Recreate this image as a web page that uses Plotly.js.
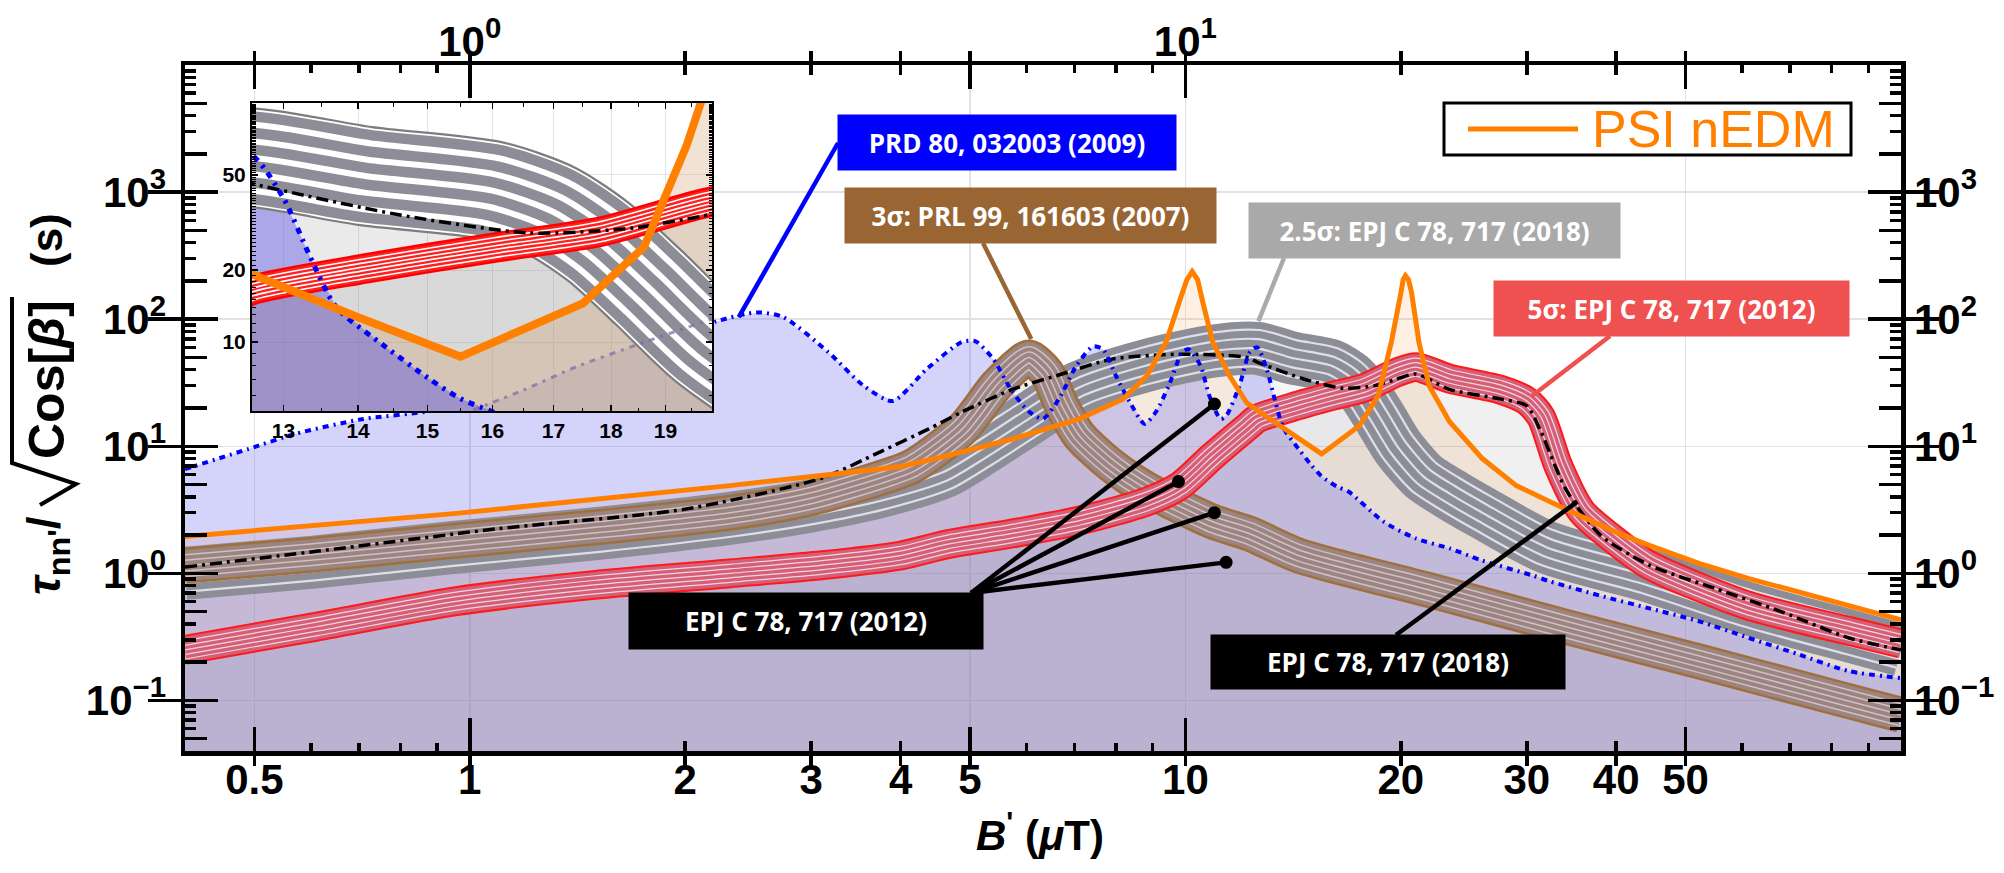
<!DOCTYPE html>
<html><head><meta charset="utf-8">
<script src="https://cdn.plot.ly/plotly-3.0.1.min.js"></script>
<style>html,body{margin:0;padding:0;background:#fff}#chart{width:2004px;height:873px}</style>
</head><body><div id="chart"></div>
<script>
// ---------------- data ----------------
// PSI nEDM (orange)
const orangeX = [0.40,0.95,2.31,3.11,3.99,4.64,5.73,7.11,8.18,8.83,9.40,9.83,10.05,10.22,10.4,10.58,10.92,11.52,12.18,13.0,14.0,15.5,16.5,17.5,18.6,19.4,20.0,20.15,20.3,20.5,20.7,21.2,21.9,23.4,26.0,29.0,34.0,40.0,44.5,52.2,61.3,84.6,100];
const orangeY = [1.95,2.95,4.9,5.9,6.9,8.4,11.4,16.4,23.5,35.7,66,143,205,237,205,135,66,36,22,17,12.7,8.7,11.3,14.5,25,66,160,205,220,205,163,66,30,15.6,8,4.9,3.2,2.1,1.66,1.2,0.91,0.56,0.43];
// PRD 80, 032003 (2009) (blue dash-dot)
const blueX = [0.40,0.49,0.57,0.71,0.885,1.3,1.7,2.21,2.52,2.74,3.17,3.55,3.9,4.35,4.87,5.09,5.39,5.73,6.05,6.32,6.66,7.04,7.43,7.67,8.0,8.36,8.77,9.1,9.48,9.9,10.1,10.5,10.8,11.2,11.4,11.9,12.3,12.6,13.0,13.35,13.7,14.4,15.0,15.5,16.3,16.9,18.9,21.0,23.4,26.0,30.6,32.2,37.9,44.5,52.2,61.3,72,84.6,100];
const blueY = [6.6,9.5,12.5,16.4,19,32,55,96,113,104,55,30,22.7,40.5,66,67,48.5,26.8,18.7,16.4,23.6,43,61,58,35.7,22.3,15,18.7,30,55,58,43,25,16.4,17.3,30,55,60,40,22.7,14,9.5,7.1,5.8,4.8,4.4,2.56,1.88,1.57,1.26,0.96,0.87,0.67,0.53,0.42,0.31,0.23,0.17,0.15];
// combined limit (black dash-dot)
const blackX = [0.40,0.61,1.10,2.0,3.1,3.74,4.38,4.88,5.73,6.72,7.9,9.8,12.2,12.6,14.6,16.6,18.4,19.5,21.0,23.4,27.5,30.0,31.4,34.0,38.0,44.5,55,68,84.6,100];
const blackY = [1.12,1.49,2.25,3.2,5.6,9.0,13.7,18.7,28,37,48.5,53,50,46,34,28.6,30,33,37,28,23.6,20.8,13,4.6,2.0,1.16,0.76,0.5,0.31,0.25];
// 2.5σ: EPJ C 78, 717 (2018) band centre (grey)
const grayX = [0.40,0.6,0.95,1.5,2.3,3.0,3.74,4.6,5.2,6.0,7.1,8.8,10.9,12.6,14.1,16.0,17.0,17.8,18.7,19.8,21.5,23.4,26,32,44.5,61,85,100];
const grayY = [1.0,1.22,1.6,2.05,2.7,3.4,4.4,6.3,9.5,16,29,43,56,59,49.5,43,35,26,16.8,9.9,5.8,4.24,3.0,1.6,0.95,0.53,0.32,0.25];
// 5σ: EPJ C 78, 717 (2012) band centre (red)
const redX = [0.40,0.61,0.95,1.49,2.31,3.11,4.0,4.64,5.73,7.11,8.83,9.83,10.9,12.2,12.6,14.1,16.1,17.8,19.8,21.0,23.4,27.5,30.0,31.4,33.2,35.8,40,44.5,61,85,100];
const redY = [0.25,0.38,0.60,0.81,1.0,1.16,1.38,1.69,2.06,2.6,3.67,4.9,8.3,14.2,16.5,20.3,25,28.9,38.3,42,34,28,22.7,17,7,3.06,1.78,1.16,0.56,0.35,0.28];
// 3σ: PRL 99, 161603 (2007) band centre (brown)
const brownX = [0.40,0.6,0.95,1.5,2.31,3.0,3.74,4.16,4.88,5.44,5.86,6.05,6.4,6.72,7.11,7.9,8.83,10.9,12.3,14.4,22.3,34,52.7,81.6,100];
const brownY = [1.15,1.4,1.8,2.3,3.0,3.9,5.6,7.0,13.7,30,45,50,38,20.8,12.1,7.0,4.6,2.56,2.05,1.38,0.72,0.38,0.2,0.104,0.077];
// faint curve seen only in the inset
const insetFaintX = [15.7,16.5,17.4,18.5,19.9];
const insetFaintY = [5.2,6.3,7.9,9.8,12.5];

// tick labels
const xTickVals = [0.5,1,2,3,4,5,10,20,30,40,50];
const xTickText = ['0.5','1','2','3','4','5','10','20','30','40','50'];
const topTickVals = [1,10];
const topTickText = ['10<sup>0</sup>','10<sup>1</sup>'];
const yTickVals = [0.1,1,10,100,1000];
const yTickText = ['10<sup>\u22121</sup>','10<sup>0</sup>','10<sup>1</sup>','10<sup>2</sup>','10<sup>3</sup>'];
const insetXTicks = [13,14,15,16,17,18,19];
const insetYTicks = [10,20,50];

// callout labels and pointer targets (data coordinates)
const calloutTexts = ['PRD 80, 032003 (2009)','3σ: PRL 99, 161603 (2007)','2.5σ: EPJ C 78, 717 (2018)','5σ: EPJ C 78, 717 (2012)','EPJ C 78, 717 (2012)','EPJ C 78, 717 (2018)'];
const pointerTargetsX = [2.376,6.09,12.65,30.5,35.3,10.98,9.78,10.98,11.4];
const pointerTargetsY = [103.7,69.7,96.5,24.9,3.67,21.5,5.27,3.0,1.22];

// ---------------- geometry / style ----------------
const PL = 185, PR = 1901, PT = 65, PB = 751;
const px = X => (X - PL) / (PR - PL);
const py = Y => (PB - Y) / (PB - PT);
const XR = [Math.log10(0.4), 2];
const YR = [Math.log10(0.04), 4];
const xFromPx = X => Math.pow(10, XR[0] + (X - PL) / (PR - PL) * (XR[1] - XR[0]));
const yFromPx = Y => Math.pow(10, YR[1] - (Y - PT) / (PB - PT) * (YR[1] - YR[0]));
const FLOOR = 1e-3;
const FAX = 'Liberation Sans, Arial, sans-serif';
const FLB = 'Open Sans, sans-serif';

const traces = [];
function fillTrace(xs, ys, color, xa, ya) {
  return {type:'scatter', mode:'lines', x: xs.concat([xs[xs.length-1], xs[0]]), y: ys.concat([FLOOR, FLOOR]),
    fill:'toself', fillcolor:color, line:{width:0}, xaxis:xa, yaxis:ya, hoverinfo:'skip', showlegend:false};
}
function bandTraces(xs, ys, rings, xa, ya, scale) {
  const half = rings.reduce((s, r) => s + r[1], 0) * scale;
  let w = 2 * half;
  const out = [];
  for (const [color, t] of rings) {
    out.push({type:'scatter', mode:'lines', x:xs, y:ys, xaxis:xa, yaxis:ya, hoverinfo:'skip', showlegend:false,
      line:{color:color, width:w, shape:'spline', smoothing:0.7}});
    w -= 2 * t * scale;
  }
  return out;
}
function lineTrace(xs, ys, color, width, dash, shape, xa, ya) {
  return {type:'scatter', mode:'lines', x:xs, y:ys, xaxis:xa, yaxis:ya, hoverinfo:'skip', showlegend:false,
    line:{color:color, width:width, dash:dash, shape:shape, smoothing:0.7}};
}
const G = '#8d8d97', GL = '#dedee8';
const grayRings = [[G,7],[GL,2.2],[G,7],[GL,2.2],[G,7],[GL,1.1]];
const RR = '#ff1a1a', RP = '#d45f78', RW = '#f6d6dd';
const redRings = [[RR,2],[RP,3.3],[RW,1.2],[RP,3.3],[RW,1.2],[RP,3.3],[RW,0.6]];
const BB = '#a0703c', BI = '#9c8480', BL = '#cfc0c6';
const brownRings = [[BB,2.5],[BI,3.9],[BL,1.5],[BI,3.9],[BL,1.5],[BI,3.9],[BL,0.75]];
const redRingsInset = [['#ff0000',2.4],['#ff2020',2.2],['#ffffff',1.6],['#ff2020',2.4],['#ffffff',1.6],['#ff2020',2.4],['#ffffff',1.6],['#ff2020',1.0]];
const grayRingsInset = [['#7d7d7d',1.2],['#ffffff',0.9],[G,5.6],['#ffffff',3.2],[G,5.6],['#ffffff',3.2],[G,5.6],['#ffffff',1.6]];

// ----- main plot -----
traces.push(fillTrace(orangeX, orangeY, 'rgba(245,150,60,0.14)', 'x', 'y'));
traces.push(fillTrace(grayX, grayY, 'rgba(140,140,150,0.08)', 'x', 'y'));
traces.push(fillTrace(redX, redY, 'rgba(140,140,150,0.13)', 'x', 'y'));
traces.push(fillTrace(brownX, brownY, 'rgba(110,60,40,0.08)', 'x', 'y'));
traces.push(fillTrace(blueX, blueY, 'rgba(100,100,240,0.28)', 'x', 'y'));
traces.push(...bandTraces(grayX, grayY, grayRings, 'x', 'y', 1));
traces.push(...bandTraces(brownX, brownY, brownRings, 'x', 'y', 1));
traces.push(...bandTraces(redX, redY, redRings, 'x', 'y', 1));
traces.push(lineTrace(blackX, blackY, '#000', 3.5, '12px,5px,3px,5px', 'spline', 'x', 'y'));
traces.push(lineTrace(blueX, blueY, '#0000ff', 4, '6px,5px,2px,5px', 'spline', 'x', 'y'));
traces.push(lineTrace(orangeX, orangeY, '#ff8000', 5, 'solid', 'linear', 'x', 'y'));

// pointer lines from the callout boxes (tail positions in px) to the targets
const pointerTails = [[838,143],[983,243],[1284,258],[1610,336],[1396,635],[971,593],[971,593],[971,593],[971,593]];
const pointerColors = ['#0000ff','#996633','#aaaaaa','#ef5050','#000','#000','#000','#000','#000'];
pointerTails.forEach((t, i) => {
  traces.push({type:'scatter', mode:'lines', x:[xFromPx(t[0]), pointerTargetsX[i]], y:[yFromPx(t[1]), pointerTargetsY[i]],
    xaxis:'x', yaxis:'y', hoverinfo:'skip', showlegend:false, line:{color:pointerColors[i], width:4.5}});
});
traces.push({type:'scatter', mode:'markers', x:pointerTargetsX.slice(5), y:pointerTargetsY.slice(5), xaxis:'x', yaxis:'y',
  hoverinfo:'skip', showlegend:false, marker:{color:'#000', size:13}});

// ----- inset (same data, magnified) -----
const IS = 1.875;
traces.push(fillTrace(grayX, grayY, 'rgba(150,150,150,0.2)', 'x2', 'y2'));
traces.push(fillTrace(redX, redY, 'rgba(150,150,150,0.2)', 'x2', 'y2'));
traces.push(fillTrace(orangeX, orangeY, 'rgba(200,140,80,0.25)', 'x2', 'y2'));
traces.push(fillTrace(insetFaintX, insetFaintY, 'rgba(120,80,150,0.12)', 'x2', 'y2'));
traces.push(fillTrace(blueX, blueY, 'rgba(80,70,230,0.4)', 'x2', 'y2'));
traces.push(...bandTraces(grayX, grayY, grayRingsInset, 'x2', 'y2', IS));
traces.push(...bandTraces(redX, redY, redRingsInset, 'x2', 'y2', 1));
traces.push(lineTrace(blackX, blackY, '#000', 3.5, '12px,5px,3px,5px', 'spline', 'x2', 'y2'));
traces.push(lineTrace(blueX, blueY, '#0000ff', 5, '6px,6px,3px,6px', 'spline', 'x2', 'y2'));
traces.push(lineTrace(insetFaintX, insetFaintY, 'rgba(130,100,170,0.7)', 3, '6px,6px,3px,6px', 'spline', 'x2', 'y2'));
traces.push(lineTrace(orangeX, orangeY, '#ff8000', 8, 'solid', 'linear', 'x2', 'y2'));

// empty traces so that the overlaying tick/label axes get drawn
[['x3','y'],['x4','y'],['x5','y'],['x6','y'],['x','y3'],['x','y4'],['x','y5']].forEach(([xa, ya]) => {
  traces.push({type:'scatter', mode:'lines', x:[], y:[], xaxis:xa, yaxis:ya, hoverinfo:'skip', showlegend:false});
});

// ---------------- axes ----------------
const tickFont = {family:FAX, size:42, color:'#000', weight:700};
const common = {type:'log', ticks:'inside', tickcolor:'#000', tickwidth:3.5, mirror:'allticks', zeroline:false, tickmode:'array', fixedrange:true};
const minorX = [0.6,0.7,0.8,0.9,6,7,8,9,60,70,80,90];
const midY = [0.05,0.2,0.5,2,5,20,50,200,500,2000,5000];
const minorY = [0.06,0.07,0.08,0.09,0.3,0.4,0.6,0.7,0.8,0.9,3,4,6,7,8,9,30,40,60,70,80,90,300,400,600,700,800,900,3000,4000,6000,7000,8000,9000];
const insetMinorY = [6,7,8,9,30,40,60,70,80,90];

const layout = {
  width:2004, height:873, paper_bgcolor:'#fff', plot_bgcolor:'#fff',
  margin:{l:PL, r:2004-PR, t:PT, b:873-PB, pad:0},
  showlegend:false, hovermode:false,
  xaxis: Object.assign({}, common, {range:XR, domain:[0,1], anchor:'y', tickvals:xTickVals, ticktext:xTickText, ticklen:10,
    showline:true, linewidth:4.5, linecolor:'#000', showgrid:false, tickfont:tickFont, ticklabelstandoff:-12}),
  xaxis4: Object.assign({}, common, {range:XR, overlaying:'x', anchor:'y', tickvals:[1,10], ticklen:33, showticklabels:false,
    showline:false, showgrid:true, gridcolor:'#e2e2e2', gridwidth:1.5}),
  xaxis5: Object.assign({}, common, {range:XR, overlaying:'x', anchor:'y', tickvals:[0.5,5,50], ticklen:24, showticklabels:false,
    showline:false, showgrid:true, gridcolor:'#e2e2e2', gridwidth:1.5}),
  xaxis6: Object.assign({}, common, {range:XR, overlaying:'x', anchor:'y', tickvals:minorX, ticklen:8, showticklabels:false,
    showline:false, showgrid:false}),
  xaxis3: Object.assign({}, common, {range:XR, overlaying:'x', anchor:'y', side:'top', tickvals:topTickVals, ticktext:topTickText,
    ticks:'', mirror:false, showline:false, showgrid:false, tickfont:tickFont, ticklabelstandoff:0}),
  yaxis: Object.assign({}, common, {range:YR, domain:[0,1], anchor:'x', tickvals:yTickVals, ticktext:yTickText, ticklen:33,
    showline:true, linewidth:4.5, linecolor:'#000', showgrid:true, gridcolor:'#e2e2e2', gridwidth:1.5, tickfont:tickFont, ticklabelstandoff:6}),
  yaxis4: Object.assign({}, common, {range:YR, overlaying:'y', anchor:'x', tickvals:midY, ticklen:22, showticklabels:false, showline:false, showgrid:false}),
  yaxis5: Object.assign({}, common, {range:YR, overlaying:'y', anchor:'x', tickvals:minorY, ticklen:11, showticklabels:false, showline:false, showgrid:false}),
  yaxis3: Object.assign({}, common, {range:YR, overlaying:'y', anchor:'x', side:'right', tickvals:yTickVals, ticktext:yTickText,
    ticks:'', mirror:false, showline:false, showgrid:false, tickfont:tickFont, ticklabelstandoff:12}),
  xaxis2: Object.assign({}, common, {range:[Math.log10(12.6), Math.log10(19.9)], domain:[px(252), px(712)], anchor:'y2',
    tickvals:insetXTicks, ticktext:insetXTicks.map(String), ticklen:6, tickwidth:1.5, showline:true, linewidth:2, linecolor:'#000',
    showgrid:true, gridcolor:'#e4e4e4', gridwidth:1, tickfont:{family:FAX, size:21, color:'#000', weight:700},
    minor:{ticks:'inside', ticklen:3.5, tickwidth:1, tickcolor:'#000', showgrid:false}}),
  yaxis2: Object.assign({}, common, {range:[Math.log10(5.15), 2], domain:[py(411), py(103)], anchor:'x2',
    tickvals:insetYTicks, ticktext:insetYTicks.map(String), ticklen:6, tickwidth:1.5, showline:true, linewidth:2, linecolor:'#000',
    showgrid:true, gridcolor:'#e4e4e4', gridwidth:1, tickfont:{family:FAX, size:21, color:'#000', weight:700},
    minor:{ticks:'inside', ticklen:3.5, tickwidth:1, tickcolor:'#000', showgrid:false}}),
  shapes: [
    {type:'rect', xref:'paper', yref:'paper', x0:px(1444), x1:px(1851), y0:py(155), y1:py(103), line:{color:'#000', width:3}, fillcolor:'#fff', layer:'above'},
    {type:'line', xref:'paper', yref:'paper', x0:px(1468), x1:px(1578), y0:py(129), y1:py(129), line:{color:'#ff8000', width:5}, layer:'above'},
    // radical sign of the y-axis title
    {type:'path', xref:'paper', yref:'paper', layer:'above', line:{color:'#000', width:4},
     path:'M' + px(40) + ',' + py(505) + ' L' + px(76) + ',' + py(484) + ' L' + px(12) + ',' + py(463) + ' L' + px(12) + ',' + py(297)}
  ],
  annotations: []
};

// legend text
layout.annotations.push({xref:'paper', yref:'paper', x:px(1590), y:py(129), xanchor:'left', yanchor:'middle', showarrow:false,
  text:'PSI nEDM', font:{family:FAX, size:52, color:'#ff8000'}});
// axis titles
layout.annotations.push({xref:'paper', yref:'paper', x:px(1040), y:py(832), xanchor:'center', yanchor:'middle', showarrow:false,
  text:"<i>B</i><sup>'</sup> (<i>\u03bc</i>T)", font:{family:FAX, size:42, color:'#000', weight:700}});
const yTitleParts = [
  {t:"<i>\u03c4</i><sub>nn'</sub>/", X:47, Y:556, s:46},
  {t:"Cos[<i>\u03b2</i>]", X:47, Y:380, s:50},
  {t:"(s)", X:47, Y:240, s:44}
];
yTitleParts.forEach(p => layout.annotations.push({xref:'paper', yref:'paper', x:px(p.X), y:py(p.Y), xanchor:'center', yanchor:'middle',
  showarrow:false, textangle:-90, text:p.t, font:{family:FAX, size:p.s, color:'#000', weight:700}}));

// callout boxes
const boxes = [
  {c:[1007,142.5], w:338, h:55, bg:'#0000ff'},
  {c:[1030.5,215.5], w:371, h:55, bg:'#996633'},
  {c:[1434.5,230.5], w:371, h:55, bg:'#a9a9a9'},
  {c:[1671.5,308.5], w:355, h:55, bg:'#ef5050'},
  {c:[806,621], w:354, h:56, bg:'#000000'},
  {c:[1388,662], w:354, h:54, bg:'#000000'}
];
boxes.forEach((b, i) => {
  layout.annotations.push({xref:'paper', yref:'paper', x:px(b.c[0]), y:py(b.c[1]), xanchor:'center', yanchor:'middle', showarrow:false,
    text:calloutTexts[i], bgcolor:b.bg, width:b.w, height:b.h, borderpad:0, align:'center', valign:'middle',
    font:{family:FLB, size:26, color:'#fff', weight:700}});
});

Plotly.newPlot('chart', traces, layout, {displayModeBar:false, staticPlot:true});
</script></body></html>
